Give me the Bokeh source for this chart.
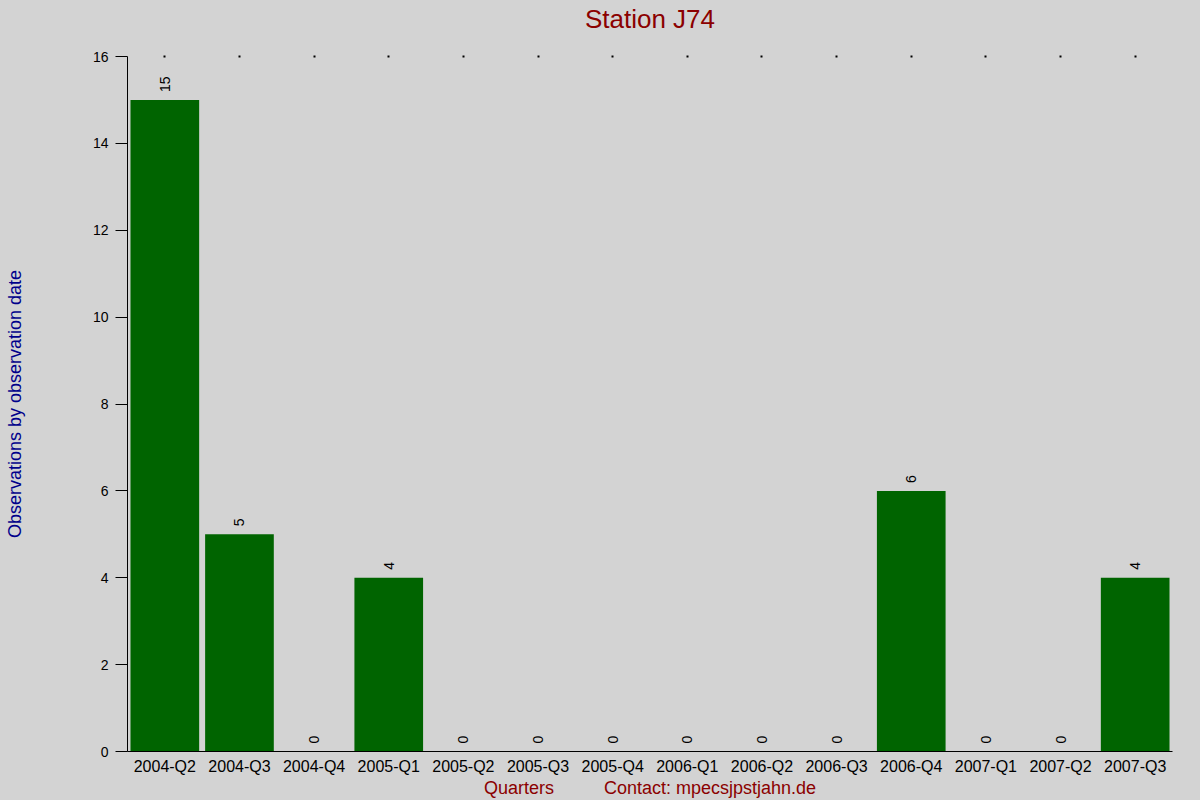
import math
from bokeh.plotting import figure
from bokeh.models import (ColumnDataSource, FactorRange, Range1d, LabelSet, FixedTicker,
                          CategoricalAxis)
from bokeh.core.properties import value
from bokeh.embed import file_html
from bokeh.resources import INLINE

quarters = ["2004-Q2", "2004-Q3", "2004-Q4", "2005-Q1", "2005-Q2", "2005-Q3", "2005-Q4",
            "2006-Q1", "2006-Q2", "2006-Q3", "2006-Q4", "2007-Q1", "2007-Q2", "2007-Q3"]
counts = [15, 5, 0, 4, 0, 0, 0, 0, 0, 0, 6, 0, 0, 4]
y_ticks = [0, 2, 4, 6, 8, 10, 12, 14, 16]

title_text = "Station J74"
y_label = "Observations by observation date"
x_label = "Quarters" + "\u00a0" * 10 + "Contact: mpecsjpstjahn.de"

BG = "#d3d3d3"
FONT = "Liberation Sans"

src = ColumnDataSource(dict(x=quarters, top=counts, txt=[str(c) for c in counts]))

p = figure(width=1200, height=800, x_range=FactorRange(*quarters, range_padding=0),
           y_range=Range1d(0, 16), output_backend="svg", toolbar_location=None,
           title=None, min_border_left=127, min_border_right=28,
           min_border_top=56, min_border_bottom=49)
p.background_fill_color = BG
p.border_fill_color = BG
p.outline_line_color = None
p.xgrid.visible = False
p.ygrid.visible = False

p.vbar(x="x", top="top", width=0.92, source=src, fill_color="#006400", line_color=None)

# y axis
ya = p.left[0]
ya.ticker = FixedTicker(ticks=y_ticks)
ya.minor_tick_line_color = None
ya.major_tick_out = 12
ya.major_tick_in = 0
ya.major_label_standoff = 7
ya.major_label_text_font = FONT
ya.major_label_text_font_size = "14px"
ya.major_label_text_color = "black"
ya.axis_line_color = "black"
ya.axis_label = y_label
ya.axis_label_standoff = 65
ya.axis_label_text_font = FONT
ya.axis_label_text_font_size = "18px"
ya.axis_label_text_font_style = "normal"
ya.axis_label_text_color = "#00008b"

# x axis (bottom)
xa = p.below[0]
xa.major_tick_out = 0
xa.major_tick_in = 0
xa.major_tick_line_color = None
xa.major_label_standoff = 6
xa.major_label_text_font = FONT
xa.major_label_text_font_size = "16px"
xa.major_label_text_color = "black"
xa.axis_line_color = "black"
xa.axis_label = x_label
xa.axis_label_standoff = 0
xa.axis_label_text_font = FONT
xa.axis_label_text_font_size = "18px"
xa.axis_label_text_font_style = "normal"
xa.axis_label_text_color = "#8b0000"

# top axis: tiny dot ticks at each category, its label carries the title
top_ax = CategoricalAxis(axis_line_color=None, major_tick_in=1, major_tick_out=1,
                         major_tick_line_color="black", major_tick_line_width=2,
                         minor_tick_line_color=None,
                         major_label_text_color=None, major_label_text_font_size="1px",
                         major_label_standoff=0,
                         axis_label=title_text, axis_label_standoff=22,
                         axis_label_text_font=FONT, axis_label_text_font_size="26px",
                         axis_label_text_font_style="normal",
                         axis_label_text_color="#8b0000")
p.add_layout(top_ax, "above")

labels = LabelSet(x="x", y="top", text="txt", source=src, angle=math.pi / 2,
                  text_align="left", text_baseline="middle", y_offset=8,
                  text_font=value(FONT), text_font_size="14px", text_color="black")
p.add_layout(labels)

html = file_html(p, INLINE)
html = html.replace("<head>", "<head><style>body{background:#d3d3d3;}</style>", 1)
open("out.html", "w").write(html)
